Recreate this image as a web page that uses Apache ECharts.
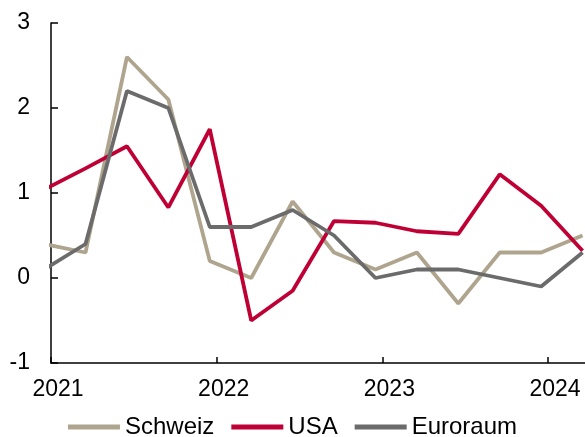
<!DOCTYPE html>
<html>
<head>
<meta charset="utf-8">
<script src="https://cdn.jsdelivr.net/npm/echarts@6/dist/echarts.min.js"></script>
<style>
html,body{margin:0;padding:0;background:#fff;}
#chart{width:585px;height:437px;}
</style>
</head>
<body>
<div id="chart"></div>
<script>
const quarters = ['2020-12','2021-03','2021-06','2021-09','2021-12','2022-03','2022-06','2022-09','2022-12','2023-03','2023-06','2023-09','2023-12','2024-03'];
const schweiz  = [0.4, 0.3, 2.6, 2.1, 0.2, 0.0, 0.9, 0.3, 0.1, 0.3, -0.3, 0.3, 0.3, 0.5];
const usa      = [1.04, 1.29, 1.55, 0.83, 1.75, -0.5, -0.15, 0.67, 0.65, 0.55, 0.52, 1.22, 0.85, 0.32];
const euroraum = [0.1, 0.4, 2.2, 2.0, 0.6, 0.6, 0.8, 0.5, 0.0, 0.1, 0.1, 0.0, -0.1, 0.3];
const yearTicks = [2021, 2022, 2023, 2024];
const yTicks = [-1, 0, 1, 2, 3];

function toYear(q){ const p=q.split('-'); return +p[0] + (+p[1]-0.5)/12; }
function pairs(vals){ return quarters.map((q,i)=>[toYear(q), vals[i]]); }

const font = '"Liberation Sans", Arial, sans-serif';
const chart = echarts.init(document.getElementById('chart'), null, {renderer:'canvas'});
chart.setOption({
  animation:false,
  backgroundColor:'#fff',
  grid:{left:51, top:23, right:0, bottom:74, containLabel:false},
  legend:{
    top:415, left:'center', padding:0, itemWidth:52, itemHeight:5, itemGap:17, icon:'rect',
    textStyle:{fontFamily:font, fontSize:24, color:'#000'},
    data:['Schweiz','USA','Euroraum']
  },
  xAxis:{
    type:'value', min:2021, max:2024.223, interval:1,
    axisLine:{show:true, onZero:false, lineStyle:{color:'#000', width:1.5}},
    axisTick:{show:true, inside:true, length:6, lineStyle:{color:'#000', width:1.5}, customValues:yearTicks},
    axisLabel:{fontFamily:font, fontSize:23, color:'#000', margin:15, padding:[0,0,0,14],
      customValues:yearTicks, formatter:v=>String(Math.round(v))},
    splitLine:{show:false}
  },
  yAxis:{
    type:'value', min:-1, max:3, interval:1,
    axisLine:{show:true, onZero:false, lineStyle:{color:'#000', width:1.5}},
    axisTick:{show:true, inside:true, length:7, lineStyle:{color:'#000', width:1.5}},
    axisLabel:{fontFamily:font, fontSize:23, color:'#000', margin:21, customValues:yTicks},
    splitLine:{show:false}
  },
  series:[
    {name:'Schweiz', type:'line', data:pairs(schweiz), symbol:'none', color:'#AFA58E', lineStyle:{width:3.8, color:'#AFA58E'}},
    {name:'USA', type:'line', data:pairs(usa), symbol:'none', color:'#BF0034', lineStyle:{width:3.8, color:'#BF0034'}},
    {name:'Euroraum', type:'line', data:pairs(euroraum), symbol:'none', color:'#6B6B6B', lineStyle:{width:3.8, color:'#6B6B6B'}}
  ]
});
</script>
</body>
</html>
